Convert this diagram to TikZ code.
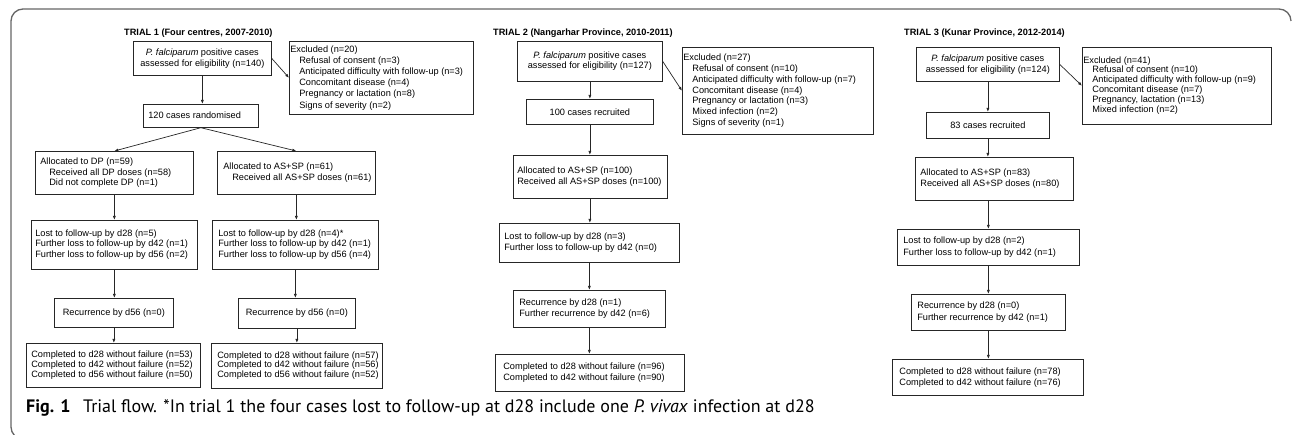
\documentclass[tikz,border=0pt]{standalone}
\usepackage{fontspec}
\setmainfont{Liberation Sans}
\newfontfamily\capfont{PT Sans}
\usetikzlibrary{arrows.meta}
\newcommand{\bxl}[3]{\makebox[#1pt][l]{\hspace*{#2pt}\begin{tabular}{@{}l@{}}#3\end{tabular}}}
\newcommand{\ind}{\hspace*{9pt}}
\begin{document}
\begin{tikzpicture}[x=1pt,y=-1pt,
  box/.style={draw=black!85, line width=0.7pt, inner sep=0pt, anchor=north west, font=\fontsize{9.2}{10.8}\selectfont},
  ttl/.style={anchor=base west, inner sep=0pt, font=\fontsize{9.2}{10.8}\selectfont\bfseries},
  arr/.style={draw=black!85, line width=0.7pt, -{Latex[length=4pt,width=3pt]}},
  frame/.style={draw=black!60, line width=1.3pt, rounded corners=12pt}]
\useasboundingbox (0,0) rectangle (1293,435);
\draw[frame] (17,439) -- (11,439) -- (11,9) -- (1291,9) -- (1291,21);

% ---------------- TRIAL 1
\node[ttl] (t1) at (124,35.5) {TRIAL 1 (Four centres, 2007-2010)};
\node[box, minimum width=138pt, minimum height=34pt, align=center] (a1) at (133,41)
  {\textit{P. falciparum} positive cases\\assessed for eligibility (n=140)};
\node[box, minimum width=184pt, minimum height=73pt, font=\fontsize{9.2}{11.2}\selectfont] (e1) at (289,41)
  {\bxl{184}{1}{Excluded (n=20)\\\ind Refusal of consent (n=3)\\\ind Anticipated difficulty with follow-up (n=3)\\\ind Concomitant disease (n=4)\\\ind Pregnancy or lactation (n=8)\\\ind Signs of severity (n=2)}};
\node[box, minimum width=115pt, minimum height=23pt] (r1) at (143,104)
  {\bxl{115}{5}{120 cases randomised}};
\node[box, minimum width=158pt, minimum height=43pt] (d1) at (35,151)
  {\bxl{158}{5}{Allocated to DP (n=59)\\\ind Received all DP doses (n=58)\\\ind Did not complete DP (n=1)}};
\node[box, minimum width=158pt, minimum height=43pt] (s1) at (217,151)
  {\bxl{158}{6}{Allocated to AS+SP (n=61)\\\ind Received all AS+SP doses (n=61)}};
\node[box, minimum width=166pt, minimum height=49pt, font=\fontsize{9.2}{10.5}\selectfont] (l1a) at (31,220)
  {\bxl{166}{4}{Lost to follow-up by d28 (n=5)\\Further loss to follow-up by d42 (n=1)\\Further loss to follow-up by d56 (n=2)}};
\node[box, minimum width=166pt, minimum height=49pt, font=\fontsize{9.2}{10.5}\selectfont] (l1b) at (212,220)
  {\bxl{166}{6}{Lost to follow-up by d28 (n=4)*\\Further loss to follow-up by d42 (n=1)\\Further loss to follow-up by d56 (n=4)}};
\node[box, minimum width=119pt, minimum height=29pt] (c1a) at (54,298) {Recurrence by d56 (n=0)};
\node[box, minimum width=117pt, minimum height=30pt] (c1b) at (238,298) {Recurrence by d56 (n=0)};
\node[box, minimum width=174pt, minimum height=44pt, font=\fontsize{9.2}{9.8}\selectfont] (f1a) at (26,343)
  {\bxl{174}{5}{Completed to d28 without failure (n=53)\\Completed to d42 without failure (n=52)\\Completed to d56 without failure (n=50)}};
\node[box, minimum width=171pt, minimum height=45pt, font=\fontsize{9.2}{9.8}\selectfont] (f1b) at (211,343)
  {\bxl{171}{6}{Completed to d28 without failure (n=57)\\Completed to d42 without failure (n=56)\\Completed to d56 without failure (n=52)}};

\draw[arr] (a1.south) -- (a1.south |- r1.north);
\draw[arr] (a1.east) -- (e1.west);
\draw[arr] (r1.south) -- (d1.north);
\draw[arr] (r1.south) -- (s1.north);
\draw[arr] (d1.south) -- (d1.south |- l1a.north);
\draw[arr] (s1.south) -- (s1.south |- l1b.north);
\draw[arr] (l1a.south) -- (l1a.south |- c1a.north);
\draw[arr] (l1b.south) -- (l1b.south |- c1b.north);
\draw[arr] (c1a.south) -- (c1a.south |- f1a.north);
\draw[arr] (c1b.south) -- (c1b.south |- f1b.north);

% ---------------- TRIAL 2
\node[ttl] (t2) at (493,36) {TRIAL 2 (Nangarhar Province, 2010-2011)};
\node[box, minimum width=145pt, minimum height=40pt, align=center] (a2) at (517,41)
  {\raisebox{-2.5pt}{\begin{tabular}{@{}c@{}}\textit{P. falciparum} positive cases\\assessed for eligibility (n=127)\end{tabular}}};
\node[box, minimum width=191pt, minimum height=87pt] (e2) at (682,47)
  {\bxl{191}{1}{Excluded (n=27)\\\ind Refusal of consent (n=10)\\\ind Anticipated difficulty with follow-up (n=7)\\\ind Concomitant disease (n=4)\\\ind Pregnancy or lactation (n=3)\\\ind Mixed infection (n=2)\\\ind Signs of severity (n=1)}};
\node[box, minimum width=127pt, minimum height=25pt] (r2) at (526,99) {100 cases recruited};
\node[box, minimum width=154pt, minimum height=43pt] (d2) at (513,155)
  {\bxl{154}{4}{Allocated to AS+SP (n=100)\\Received all AS+SP doses (n=100)}};
\node[box, minimum width=180pt, minimum height=39pt] (l2) at (499,223)
  {\bxl{180}{5}{Lost to follow-up by d28 (n=3)\\Further loss to follow-up by d42 (n=0)}};
\node[box, minimum width=152pt, minimum height=37pt, font=\fontsize{9.2}{11.5}\selectfont] (c2) at (513,290)
  {\bxl{152}{6}{Recurrence by d28 (n=1)\\Further recurrence by d42 (n=6)}};
\node[box, minimum width=189pt, minimum height=37pt, font=\fontsize{9.2}{11.3}\selectfont] (f2) at (495,354)
  {\bxl{189}{8}{Completed to d28 without failure (n=96)\\Completed to d42 without failure (n=90)}};

\draw[arr] (a2.south) -- (a2.south |- r2.north);
\draw[arr] (a2.east) -- (e2.west);
\draw[arr] (r2.south) -- (r2.south |- d2.north);
\draw[arr] (r2.south |- d2.south) -- (r2.south |- l2.north);
\draw[arr] (l2.south) -- (l2.south |- c2.north);
\draw[arr] (c2.south) -- (c2.south |- f2.north);

% ---------------- TRIAL 3
\node[ttl] (t3) at (904,36) {TRIAL 3 (Kunar Province, 2012-2014)};
\node[box, minimum width=143pt, minimum height=34pt, align=center] (a3) at (916,47)
  {\textit{P. falciparum} positive cases\\assessed for eligibility (n=124)};
\node[box, minimum width=189pt, minimum height=77pt, font=\fontsize{9.2}{9.9}\selectfont] (e3) at (1082,47)
  {\bxl{189}{1}{Excluded (n=41)\\\ind Refusal of consent (n=10)\\\ind Anticipated difficulty with follow-up (n=9)\\\ind Concomitant disease (n=7)\\\ind Pregnancy, lactation (n=13)\\\ind Mixed infection (n=2)}};
\node[box, minimum width=123pt, minimum height=26pt] (r3) at (926,112) {83 cases recruited};
\node[box, minimum width=158pt, minimum height=43pt] (d3) at (915,157)
  {\bxl{158}{5}{Allocated to AS+SP (n=83)\\Received all AS+SP doses (n=80)}};
\node[box, minimum width=182pt, minimum height=36pt, font=\fontsize{9.2}{11.2}\selectfont] (l3) at (897,229)
  {\bxl{182}{6}{Lost to follow-up by d28 (n=2)\\Further loss to follow-up by d42 (n=1)}};
\node[box, minimum width=154pt, minimum height=36pt, font=\fontsize{9.2}{11.5}\selectfont] (c3) at (911,294)
  {\bxl{154}{6}{Recurrence by d28 (n=0)\\Further recurrence by d42 (n=1)}};
\node[box, minimum width=191pt, minimum height=36pt, font=\fontsize{9.2}{11}\selectfont] (f3) at (892,359)
  {\bxl{191}{7}{Completed to d28 without failure (n=78)\\Completed to d42 without failure (n=76)}};

\draw[arr] (a3.south) -- (a3.south |- r3.north);
\draw[arr] (a3.east) -- (e3.west);
\draw[arr] (r3.south) -- (r3.south |- d3.north);
\draw[arr] (l3.north |- d3.south) -- (l3.north);
\draw[arr] (l3.south) -- (l3.south |- c3.north);
\draw[arr] (c3.south) -- (c3.south |- f3.north);

% ---------------- caption
\node[anchor=base west, inner sep=0pt, font=\capfont\fontsize{18}{21}\selectfont] (cap) at (26,413)
  {\textbf{Fig. 1}\hspace{0.7em}Trial flow. *In trial 1 the four cases lost to follow-up at d28 include one \textit{P. vivax} infection at d28};
\end{tikzpicture}
\end{document}
